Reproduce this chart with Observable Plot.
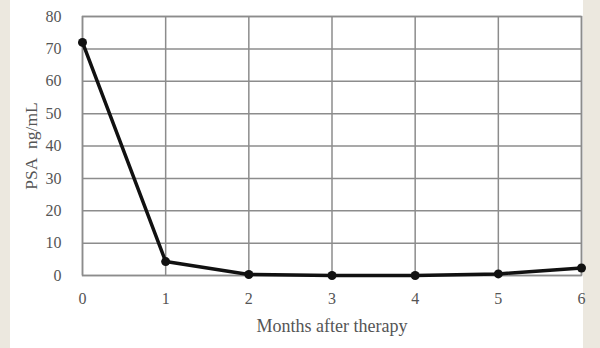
<!DOCTYPE html>
<html><head><meta charset="utf-8">
<script src="https://cdn.jsdelivr.net/npm/d3@7"></script>
<script src="https://cdn.jsdelivr.net/npm/@observablehq/plot@0.6"></script>
<style>
html,body{margin:0;padding:0;}
body{width:600px;height:348px;background:linear-gradient(to right,#ece8df 0,#ece8df 10px,#fff 10px,#fff 583px,#ece8df 583px);}
#chart svg{display:block;background:transparent;}
</style></head>
<body><div id="chart"></div>
<script>
const months = [0, 1, 2, 3, 4, 5, 6];
const psa = [72, 4.3, 0.3, 0, 0, 0.5, 2.3];
const yTicks = [0, 10, 20, 30, 40, 50, 60, 70, 80];
const xLabel = "Months after therapy";
const yLabel = "PSA\u00a0 ng/mL";

const data = months.map((m, i) => ({month: m, psa: psa[i]}));
const grid = "#8c8c8c";
const ink = "#555";
const chart = Plot.plot({
  width: 600, height: 348,
  marginLeft: 82, marginRight: 19, marginTop: 16, marginBottom: 73,
  style: {fontFamily: "'Liberation Serif', serif", fontSize: "16px", color: ink, background: "transparent"},
  x: {domain: [0, 6], ticks: months, label: null},
  y: {domain: [0, 80], ticks: yTicks, label: null},
  marks: [
    Plot.gridX(months, {stroke: grid, strokeOpacity: 1, strokeWidth: 1.5}),
    Plot.gridY(yTicks, {stroke: grid, strokeOpacity: 1, strokeWidth: 1.5}),
    Plot.frame({stroke: grid, strokeWidth: 1.5}),
    Plot.axisX(months, {tickSize: 0, tickPadding: 17, label: null, fill: ink, fontSize: 16}),
    Plot.axisY(yTicks, {tickSize: 0, tickPadding: 21, label: null, fill: ink, fontSize: 16}),
    Plot.axisX({frameAnchor: "bottom", ticks: [], label: xLabel, labelAnchor: "center", labelOffset: 56, labelArrow: "none", fill: ink, fontSize: 18}),
    Plot.axisY({frameAnchor: "left", ticks: [], label: yLabel, labelAnchor: "center", labelOffset: 58, labelArrow: "none", fill: ink, fontSize: 17.5}),
    Plot.line(data, {x: "month", y: "psa", stroke: "#111", strokeWidth: 3.5}),
    Plot.dot(data, {x: "month", y: "psa", fill: "#111", r: 4.5})
  ]
});
document.getElementById("chart").append(chart);
</script></body></html>
